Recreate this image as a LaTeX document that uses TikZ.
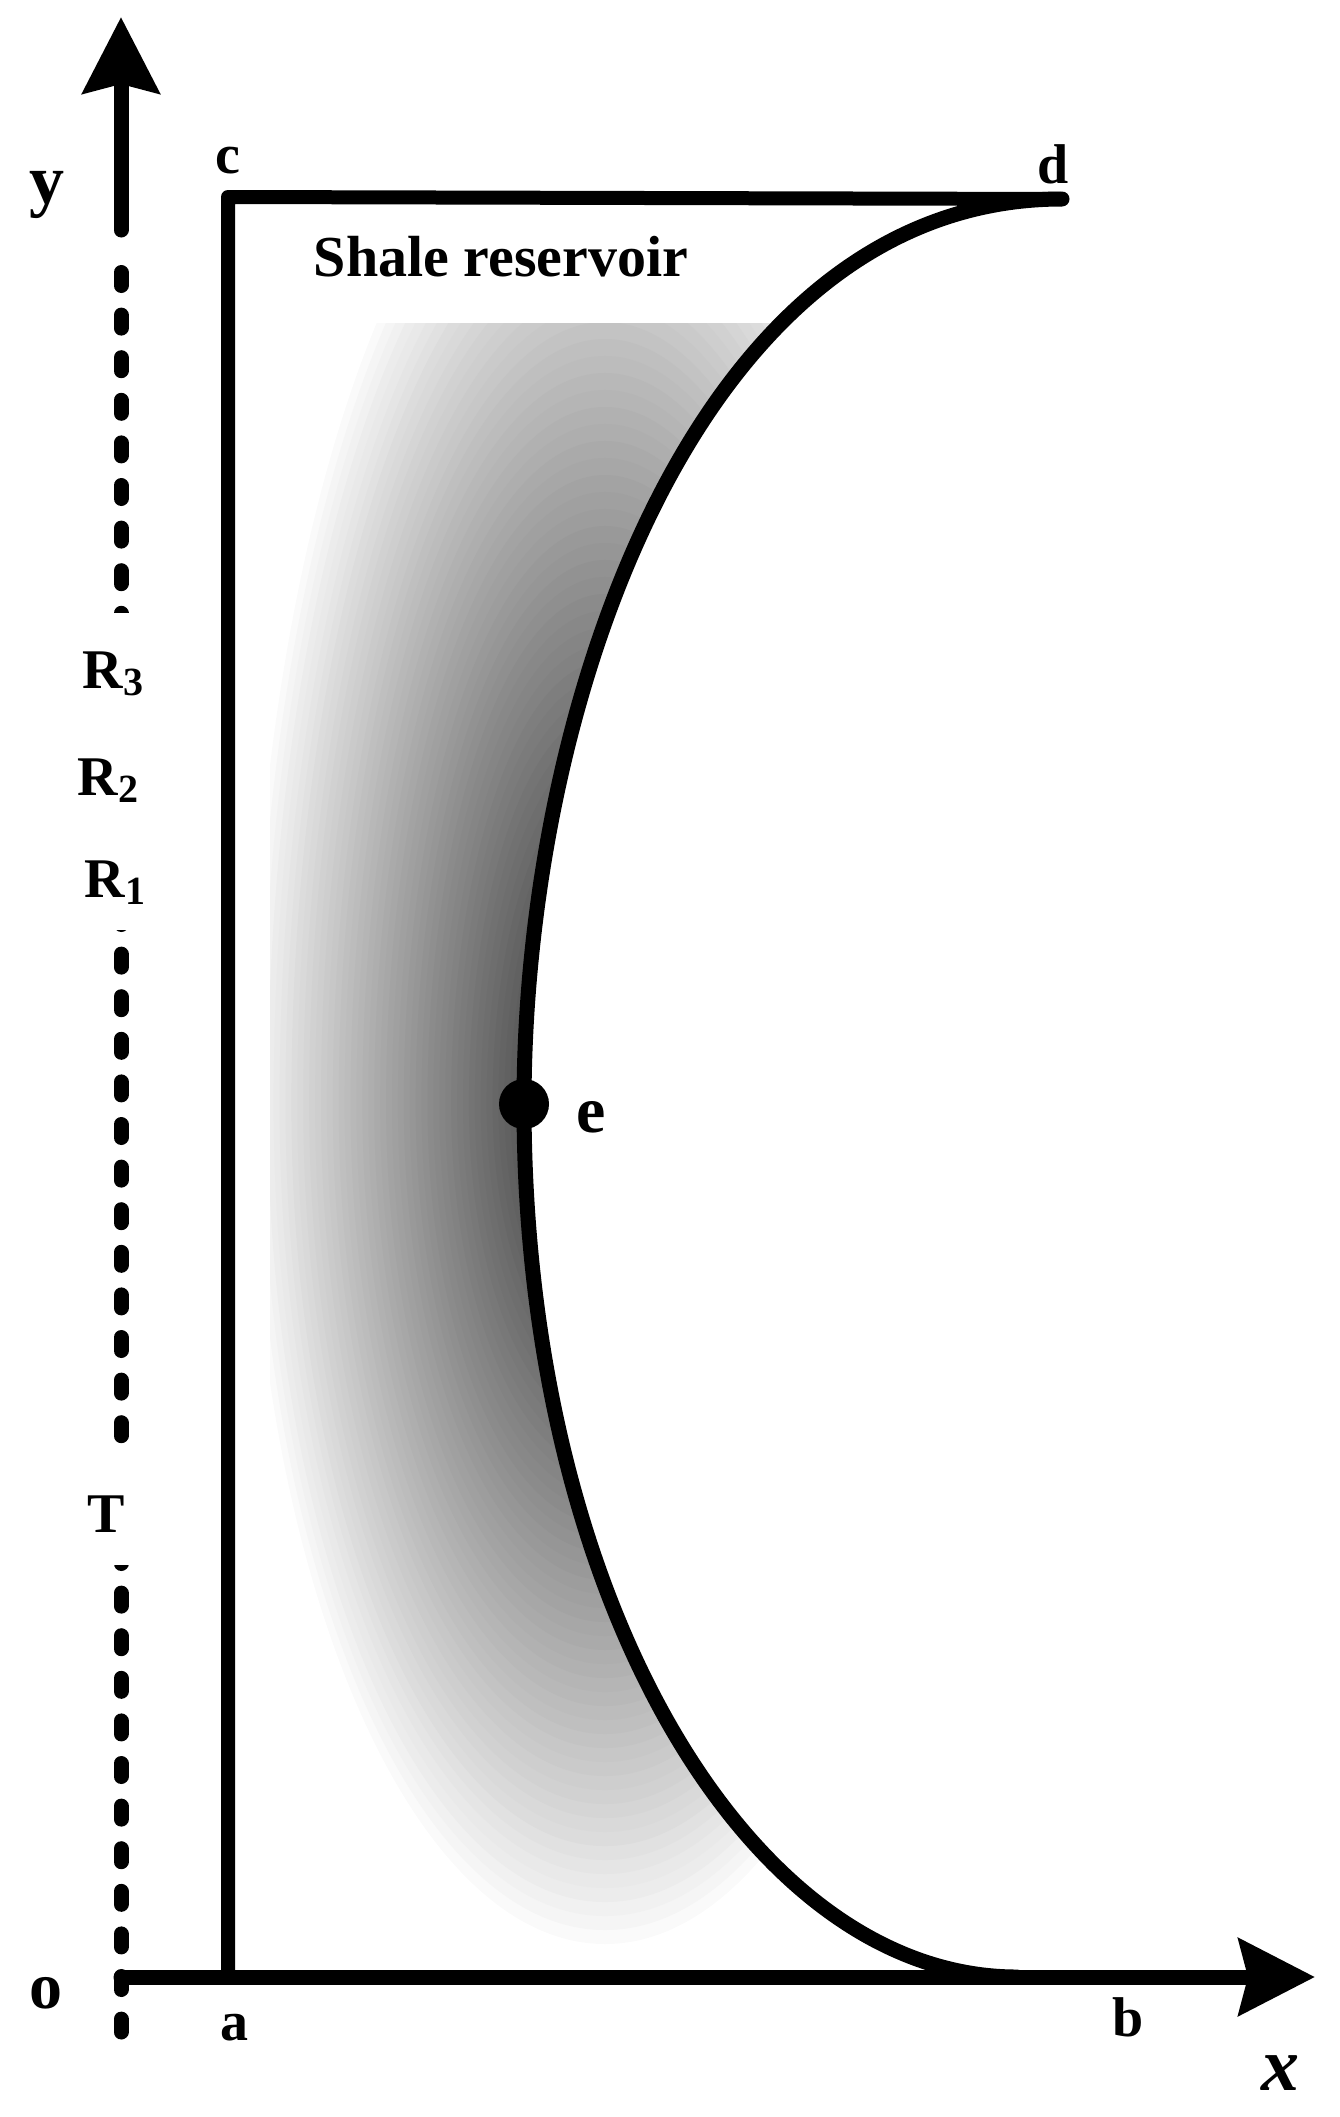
\documentclass[tikz,border=0pt]{standalone}
\usepackage{fontspec}
\setmainfont{Liberation Serif}
\usetikzlibrary{arrows.meta, positioning}

\tikzset{
  lbl/.style={font=\fontsize{56}{60}\selectfont\bfseries, inner sep=0pt, anchor=base},
  biglbl/.style={font=\fontsize{70}{76}\selectfont\bfseries, inner sep=0pt, anchor=base},
  radlbl/.style={lbl, fill=white, inner xsep=10pt, inner ysep=25pt, text height=50pt, text depth=8pt},
  axis/.style={line width=15pt, -{Stealth[length=76pt, width=76pt, inset=9pt]}}
}
\newcommand{\sub}[1]{\raisebox{-7pt}{\fontsize{40}{40}\selectfont #1}}

\begin{document}
\begin{tikzpicture}[x=1pt, y=-1pt, line cap=round, line join=round]
\useasboundingbox (0,0) rectangle (1339,2117);

        \coordinate (o) at (121,1977);
        \coordinate (a) at (228,1977);
        \coordinate (c) at (228,197);
        \coordinate (d) at (1062,199);
        \coordinate (e) at (524,1104);
        \coordinate (bb) at (1017,1977);
        \coordinate (yfoot) at (121,230);
        \coordinate (ytip) at (121,17);
        \coordinate (xtip) at (1315,1977);
        \coordinate (dashtop) at (121,272.5);
        \coordinate (dashbot) at (121,2032);

        \def\crv{(d) .. controls (700,199) and (524,700) .. (e) .. controls (524,1600) and (750,1977) .. (bb)}

        \begin{scope}
            \clip (270,323) rectangle (1339,1977);
            \foreach \k in {1,...,60} {
                \pgfmathsetmacro\s{1-(\k-1)/60}
                \pgfmathsetmacro\dk{82*pow(\k/60,0.9)}
                \fill[black!\dk] (605,1104) ++(355*\s,0)
                    arc[start angle=0, end angle=180, x radius=355*\s, y radius=840*\s]
                    arc[start angle=180, end angle=360, x radius=355*\s, y radius=1020*\s] -- cycle;
            }
            \fill[white] \crv -- (1339,1977) -- (1339,199) -- cycle;
        \end{scope}

        \draw[line width=14pt] (a) -- (c) -- (d);
        \draw[line width=15pt] \crv;

        \draw[line width=15pt, dash pattern=on 13pt off 29.6pt] (dashtop) -- (dashbot);
        \draw[axis] (yfoot) -- (ytip);
        \draw[axis] (o) -- (xtip);

        \node[circle, fill, inner sep=0pt, minimum size=50pt] (edot) at (e) {};

        \node[radlbl] (r3) at (113,688) {R\sub{3}};
        \node[radlbl] (r2) at (108,795) {R\sub{2}};
        \node[radlbl] (r1) at (115,897) {R\sub{1}};
        \node[radlbl] (t) at (106,1532) {T};

        \node[biglbl] (ylbl) at (47,203) {y};
        \node[lbl] (clbl) at (228,173) {c};
        \node[lbl] (dlbl) at (1053,183) {d};
        \node[lbl, font=\fontsize{58}{62}\selectfont\bfseries] (shale) at (501,276) {Shale reservoir};
        \node[biglbl, font=\fontsize{66}{70}\selectfont\bfseries] (elbl) at (591,1132) {e};
        \node[biglbl, font=\fontsize{66}{70}\selectfont\bfseries] (olbl) at (46,2008) {o};
        \node[lbl] (albl) at (234,2040) {a};
        \node[lbl] (blbl) at (1128,2036) {b};
        \node[biglbl, font=\fontsize{76}{80}\selectfont\bfseries\itshape] (xlbl) at (1280,2090) {x};
        \end{tikzpicture}
\end{document}
